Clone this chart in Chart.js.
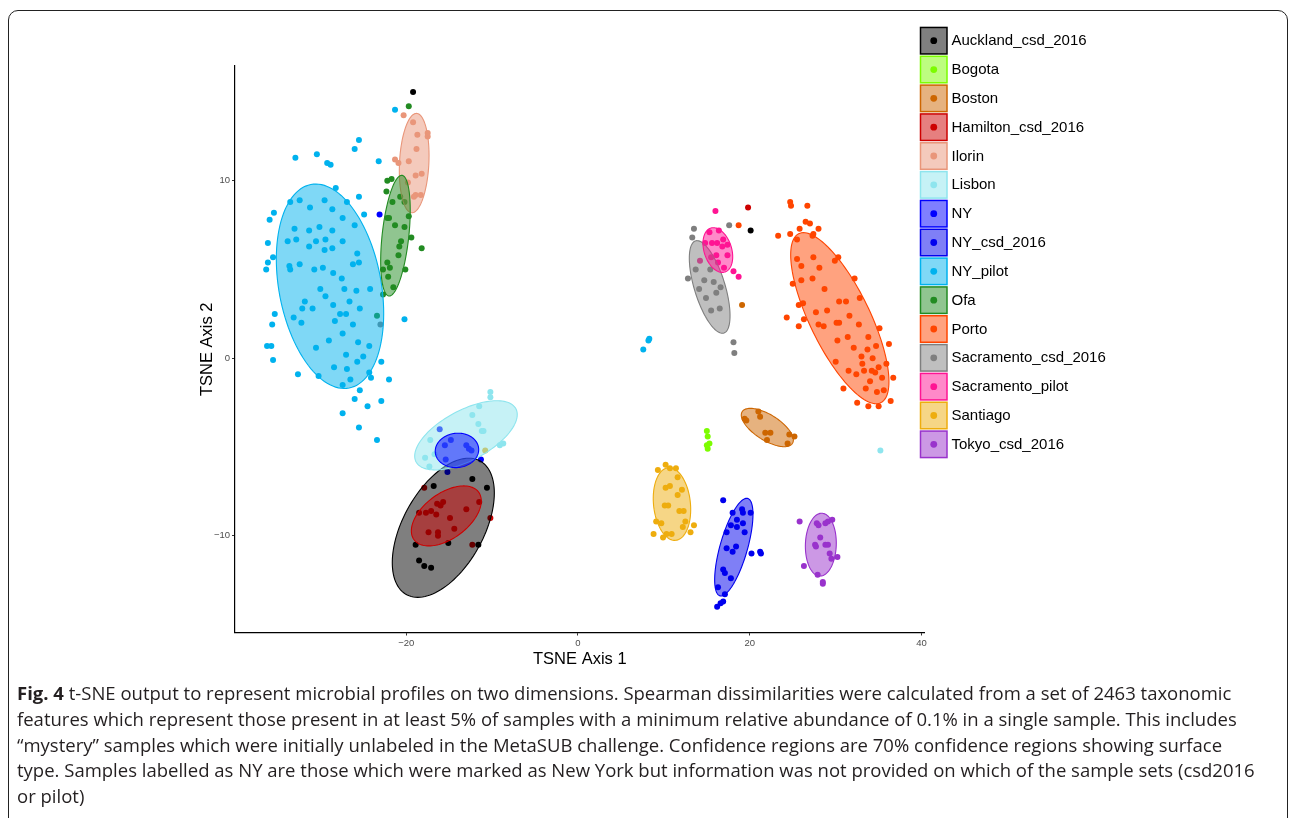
<!DOCTYPE html>
<html><head><meta charset="utf-8">
<script src="https://cdn.jsdelivr.net/npm/chart.js@4"></script>
<style>
html,body{margin:0;padding:0;background:#fff;width:1290px;height:818px;overflow:hidden;}
#wrap{position:relative;width:1290px;height:818px;}
#c{position:absolute;left:0;top:0;}
#frame{position:absolute;left:8px;top:10px;width:1280px;height:830px;border:1.5px solid #222;border-radius:10px;box-sizing:border-box;pointer-events:none;}
#caption{position:absolute;left:17px;top:680px;font-family:'Open Sans',sans-serif;font-size:18.5px;line-height:25.75px;color:#231f20;white-space:nowrap;}
#caption b{font-weight:700;}
</style></head>
<body><div id="wrap">
<canvas id="c" width="1290" height="818"></canvas>
<div id="frame"></div>
<div id="caption">
<div><b>Fig. 4</b> t-SNE output to represent microbial profiles on two dimensions. Spearman dissimilarities were calculated from a set of 2463 taxonomic</div>
<div>features which represent those present in at least 5% of samples with a minimum relative abundance of 0.1% in a single sample. This includes</div>
<div>“mystery” samples which were initially unlabeled in the MetaSUB challenge. Confidence regions are 70% confidence regions showing surface</div>
<div>type. Samples labelled as NY are those which were marked as New York but information was not provided on which of the sample sets (csd2016</div>
<div>or pilot)</div>
</div>
</div>
<script>
// ---- categories ----
const groups = ['Auckland_csd_2016','Bogota','Boston','Hamilton_csd_2016','Ilorin','Lisbon','NY','NY_csd_2016','NY_pilot','Ofa','Porto','Sacramento_csd_2016','Sacramento_pilot','Santiago','Tokyo_csd_2016'];

// ---- tick labels / ranges ----
const xTicks = [-20, 0, 20, 40];
const yTicks = [-10, 0, 10];
const xRange = [-39.93, 40.35];
const yRange = [-15.45, 16.47];

// ---- sample coordinates [TSNE1, TSNE2] ----
const auckland = [[-12.3,-6.8],[-16.8,-7.2],[-10.6,-7.3],[-18.9,-10.5],[-11.6,-10.5],[-15.1,-10.4],[-18.5,-11.4],[-17.9,-11.7],[-17.1,-11.8],[-19.2,15.0],[20.1,7.2]];
const bogota = [[15.0,-4.1],[15.1,-4.4],[15.3,-4.8],[15.0,-4.9],[15.1,-5.1]];
const boston = [[19.4,-3.4],[19.6,-3.5],[21.0,-3.0],[21.2,-3.3],[21.8,-4.2],[22.4,-4.2],[22.0,-4.6],[24.6,-4.3],[25.2,-4.4],[24.4,-4.8],[19.1,3.0]];
const hamilton = [[-17.9,-7.3],[-16.4,-8.2],[-16.0,-8.3],[-15.7,-8.1],[-18.5,-8.7],[-17.7,-8.7],[-17.1,-8.6],[-16.5,-8.8],[-14.9,-9.0],[-13.0,-8.5],[-11.5,-8.1],[-10.2,-9.0],[-17.4,-9.8],[-16.3,-9.8],[-16.3,-10.0],[-14.4,-9.6],[-12.3,-10.5],[19.8,8.5]];
const ilorin = [[-20.3,13.7],[-19.2,13.3],[-18.7,12.6],[-17.5,12.7],[-17.5,12.5],[-18.8,11.8],[-21.3,11.2],[-20.9,11.0],[-19.7,11.1],[-18.9,10.3],[-18.2,10.4],[-19.8,9.9],[-18.9,9.2],[-19.1,9.1],[-18.3,9.2]];
const lisbon = [[-10.2,-1.9],[-10.2,-2.2],[-11.5,-2.7],[-12.3,-3.2],[-11.6,-3.7],[-11.2,-4.1],[-11.0,-4.1],[-17.2,-4.6],[-9.1,-4.9],[-8.7,-4.8],[-17.8,-5.6],[-17.3,-6.1],[-16.7,-5.4],[35.2,-5.2]];
const ny = [[-16.1,-4.0],[-14.8,-4.6],[-15.5,-4.9],[-13.0,-4.9],[-12.7,-5.1],[-12.4,-5.2],[-15.4,-5.7],[-11.3,-5.7],[-15.2,-6.4],[-23.1,8.1]];
const nyCsd = [[16.9,-8.0],[18.0,-8.7],[19.1,-8.5],[19.2,-8.7],[20.1,-8.7],[18.5,-9.1],[17.8,-9.4],[18.5,-9.5],[19.2,-9.3],[17.3,-9.8],[19.4,-9.8],[17.3,-10.7],[18.4,-10.6],[18.0,-10.9],[20.2,-11.0],[21.2,-10.9],[21.3,-11.0],[16.9,-11.9],[17.1,-12.1],[17.8,-12.4],[16.3,-12.9],[17.1,-13.3],[16.9,-13.7],[16.6,-13.8],[16.2,-14.0]];
const nyPilot = [[-21.3,14.0],[-25.5,12.3],[-26.0,11.8],[-32.9,11.3],[-30.4,11.5],[-29.2,11.0],[-28.8,10.9],[-23.2,11.1],[-28.2,9.6],[-25.5,9.1],[-33.5,8.8],[-32.4,8.9],[-29.5,8.9],[-26.9,8.8],[-31.2,8.5],[-28.6,8.4],[-24.9,8.1],[-35.4,8.2],[-35.9,7.8],[-27.4,7.9],[-30.1,7.4],[-26.0,7.5],[-33.0,7.3],[-31.3,7.2],[-28.6,7.2],[-33.8,6.6],[-32.8,6.7],[-29.4,6.7],[-30.5,6.6],[-27.4,6.6],[-31.3,6.3],[-29.5,6.1],[-28.6,6.2],[-36.1,6.5],[-35.5,5.7],[-25.7,5.9],[-25.5,5.4],[-26.2,5.3],[-36.1,5.4],[-36.3,5.0],[-33.6,5.2],[-33.5,5.0],[-32.4,5.3],[-30.7,5.0],[-29.7,5.1],[-28.5,4.8],[-27.5,4.5],[-30.0,3.9],[-27.2,3.9],[-25.8,3.8],[-24.2,3.9],[-29.4,3.5],[-26.6,3.2],[-31.8,3.2],[-32.1,2.8],[-30.9,2.8],[-28.5,3.0],[-25.4,2.8],[-27.7,2.5],[-27.0,2.5],[-35.3,2.5],[-33.1,2.3],[-32.2,2.0],[-28.3,2.1],[-26.2,1.9],[-35.6,1.9],[-20.2,2.2],[-27.4,1.4],[-29.0,1.0],[-25.6,0.9],[-24.3,0.7],[-36.2,0.7],[-35.7,0.7],[-30.5,0.6],[-27.0,0.2],[-25.0,0.1],[-25.7,-0.2],[-35.5,-0.1],[-22.9,-0.2],[-28.4,-0.5],[-26.9,-0.6],[-24.3,-0.8],[-32.6,-0.9],[-30.2,-1.0],[-24.1,-1.1],[-22.0,-1.2],[-26.5,-1.2],[-27.4,-1.5],[-25.4,-1.8],[-26.0,-2.3],[-22.9,-2.4],[-24.5,-2.7],[-27.4,-3.1],[-25.5,-3.9],[-23.4,-4.6],[8.3,1.1],[8.2,1.0],[7.6,0.5]];
const ofa = [[-19.7,14.2],[-22.2,10.0],[-21.7,10.1],[-22.3,9.4],[-21.6,8.8],[-20.7,9.1],[-20.2,8.8],[-19.7,8.0],[-22.2,7.9],[-22.0,7.9],[-21.3,7.5],[-20.2,7.4],[-19.4,6.8],[-20.6,6.6],[-20.8,6.3],[-20.9,5.8],[-18.2,6.2],[-22.2,5.4],[-21.9,5.1],[-22.7,5.0],[-20.1,5.0],[-22.1,4.6],[-21.5,4.0],[-22.7,3.6],[-23.4,2.4]];
const porto = [[24.7,8.8],[24.8,8.6],[26.7,8.6],[26.5,7.7],[27.0,7.6],[27.3,6.9],[27.4,7.0],[28.0,7.3],[25.8,7.3],[24.7,7.0],[23.3,6.9],[25.5,6.7],[25.5,5.6],[27.4,5.7],[26.0,5.2],[29.9,5.5],[30.3,5.7],[28.1,5.1],[26.0,4.4],[27.3,4.5],[25.0,4.2],[32.2,4.5],[28.7,3.9],[32.8,3.4],[30.4,3.2],[31.2,3.2],[26.2,3.1],[25.7,3.0],[29.0,2.7],[27.7,2.6],[24.3,2.3],[26.3,2.2],[31.6,2.4],[25.7,1.8],[28.0,1.9],[28.6,1.8],[30.1,2.0],[30.4,2.0],[32.7,1.9],[35.1,1.7],[31.4,1.2],[33.8,1.2],[30.2,1.0],[36.2,0.8],[34.7,0.7],[32.1,0.6],[33.7,0.5],[33.0,0.1],[34.3,0.0],[30.0,-0.2],[33.1,-0.3],[35.9,-0.3],[35.0,-0.5],[31.5,-0.7],[32.4,-0.9],[33.3,-0.7],[34.2,-0.7],[34.6,-0.8],[35.4,-1.1],[36.7,-1.1],[34.0,-1.3],[30.9,-1.7],[33.5,-1.7],[34.8,-1.9],[35.6,-1.8],[36.4,-2.4],[32.5,-2.5],[33.8,-2.7],[35.0,-2.7],[18.7,7.5]];
const sacCsd = [[13.5,7.3],[17.6,7.5],[13.3,6.8],[13.7,5.0],[15.4,5.0],[12.8,4.5],[14.7,4.4],[15.8,4.3],[14.1,3.9],[16.6,4.0],[16.1,3.7],[14.9,3.4],[16.5,2.8],[15.5,2.7],[18.1,0.9],[18.2,0.3],[-23.0,1.9]];
const sacPilot = [[16.0,8.3],[15.3,7.1],[16.4,7.2],[14.8,6.5],[15.6,6.5],[16.2,6.5],[16.9,6.7],[17.4,6.4],[16.8,6.3],[17.4,5.8],[16.1,5.8],[15.5,5.7],[16.3,5.4],[17.0,5.1],[18.1,4.9],[18.7,4.6],[14.2,5.5]];
const santiago = [[9.3,-6.3],[10.2,-6.0],[10.7,-6.2],[11.4,-6.2],[11.6,-6.7],[10.2,-7.3],[10.7,-7.2],[12.1,-7.4],[11.6,-7.7],[10.1,-8.3],[10.5,-8.3],[11.8,-8.6],[12.3,-8.6],[9.1,-9.2],[9.7,-9.3],[12.5,-9.2],[12.2,-9.5],[13.5,-9.4],[8.8,-9.9],[9.9,-10.1],[10.3,-9.9],[10.9,-9.9],[13.1,-9.8],[-10.8,-5.2]];
const tokyo = [[25.8,-9.2],[27.8,-9.3],[28.0,-9.4],[28.8,-9.3],[29.1,-9.2],[29.6,-9.1],[28.2,-10.1],[27.6,-10.5],[27.7,-10.6],[28.8,-10.5],[29.1,-10.5],[29.3,-11.0],[29.5,-11.3],[30.2,-11.2],[26.3,-11.7],[27.9,-12.2],[28.5,-12.6],[28.5,-12.7]];

// ---- 70% confidence ellipses (centre, spread, correlation), per group ----
const ellipseCx = [-15.68, null, 22.04, -15.33, -19.07, -13.04, -14.09, 18.14, -28.87, -21.25, 30.48, 15.33, 16.28, 10.94, 28.27];
const ellipseCy = [-9.55, null, -3.90, -8.88, 11.00, -4.34, -5.19, -10.64, 4.06, 6.91, 2.26, 4.02, 6.10, -8.21, -10.50];
const ellipseSx = [5.94, null, 3.03, 4.07, 1.73, 5.97, 2.53, 2.23, 6.25, 1.72, 5.72, 2.37, 1.73, 2.18, 1.80];
const ellipseSy = [3.92, null, 1.08, 1.69, 2.80, 1.95, 0.97, 2.75, 5.76, 3.40, 4.82, 2.61, 1.26, 2.05, 1.77];
const ellipseR  = [0.50, null, -0.65, 0.50, 0.15, 0.60, 0.05, 0.67, -0.265, 0.42, -0.74, -0.62, -0.30, -0.15, 0.05];

// ---- styles ----
const colors = ['#000000','#7CFC00','#CD6600','#CD0000','#E9967A','#8EE5EE','#0000FF','#0000EE','#00B2EE','#228B22','#FF4500','#7F7F7F','#FF1493','#EEAD0E','#9932CC'];
const groupPoints = [auckland, bogota, boston, hamilton, ilorin, lisbon, ny, nyCsd, nyPilot, ofa, porto, sacCsd, sacPilot, santiago, tokyo];

function rgba(hex, a){
  const n = parseInt(hex.slice(1),16);
  return `rgba(${(n>>16)&255},${(n>>8)&255},${n&255},${a})`;
}

const ellipsePlugin = {
  id:'ellipses',
  afterDatasetsDraw(chart){
    const ctx = chart.ctx, xs = chart.scales.x, ys = chart.scales.y;
    ctx.save();
    groups.forEach((g,i)=>{
      if (ellipseCx[i] === null) return;
      const cx=ellipseCx[i], cy=ellipseCy[i], sx=ellipseSx[i], sy=ellipseSy[i], r=ellipseR[i];
      const q = Math.sqrt(1 - r*r);
      ctx.beginPath();
      for (let k=0;k<=120;k++){
        const t = k/120*2*Math.PI;
        const dx = cx + sx*Math.cos(t);
        const dy = cy + sy*(r*Math.cos(t) + q*Math.sin(t));
        const px = xs.getPixelForValue(dx), py = ys.getPixelForValue(dy);
        if (k===0) ctx.moveTo(px,py); else ctx.lineTo(px,py);
      }
      ctx.closePath();
      ctx.fillStyle = rgba(colors[i],0.5);
      ctx.fill();
      ctx.lineWidth = 1.1;
      ctx.strokeStyle = colors[i];
      ctx.stroke();
    });
    ctx.restore();
  }
};

const legendPlugin = {
  id:'customLegend',
  afterDraw(chart){
    const ctx = chart.ctx;
    ctx.save();
    const x0 = 920.5, y0 = 40.7, step = 28.83, box = 26.5;
    groups.forEach((g,i)=>{
      const cy = y0 + i*step;
      ctx.fillStyle = '#ffffff';
      ctx.fillRect(x0, cy-box/2, box, box);
      ctx.fillStyle = rgba(colors[i],0.5);
      ctx.fillRect(x0, cy-box/2, box, box);
      ctx.lineWidth = 1.5;
      ctx.strokeStyle = colors[i];
      ctx.strokeRect(x0, cy-box/2, box, box);
      ctx.beginPath();
      ctx.arc(x0+box/2, cy, 3.4, 0, 2*Math.PI);
      ctx.fillStyle = colors[i];
      ctx.fill();
      ctx.fillStyle = '#000';
      ctx.font = '15px "Liberation Sans", Arial, sans-serif';
      ctx.textBaseline = 'middle';
      ctx.textAlign = 'left';
      ctx.fillText(g, 951.5, cy+0.5);
    });
    ctx.restore();
  }
};

const minus = v => v < 0 ? '\u2212' + Math.abs(v) : String(v);

new Chart(document.getElementById('c'), {
  type:'scatter',
  data:{
    datasets: groups.map((g,i)=>({
      label:g,
      data: groupPoints[i].map(p=>({x:p[0], y:p[1]})),
      backgroundColor: colors[i],
      borderWidth:0,
      pointRadius:3,
      pointHoverRadius:3
    }))
  },
  options:{
    responsive:false,
    animation:false,
    devicePixelRatio:1,
    events:[],
    layout:{padding:{left:0, top:66, right:365.4, bottom:138}},
    plugins:{legend:{display:false}, tooltip:{enabled:false}, title:{display:false}},
    scales:{
      x:{
        type:'linear', min:xRange[0], max:xRange[1],
        afterBuildTicks: s => { s.ticks = xTicks.map(v=>({value:v})); },
        afterFit: s => { s.height = 47.5; },
        grid:{drawOnChartArea:false, color:'#333', tickLength:3, tickWidth:1},
        border:{display:true, color:'#000', width:1.2},
        ticks:{padding:2, color:'#4d4d4d', font:{family:'Liberation Sans', size:9.5}, maxRotation:0, autoSkip:false, callback: v => minus(v)},
        title:{display:true, text:'TSNE Axis 1', color:'#000', font:{family:'Liberation Sans', size:16.5}, padding:{top:0, bottom:11}}
      },
      y:{
        type:'linear', min:yRange[0], max:yRange[1],
        afterBuildTicks: s => { s.ticks = yTicks.map(v=>({value:v})); },
        afterFit: s => { s.width = 235; },
        grid:{drawOnChartArea:false, color:'#333', tickLength:3, tickWidth:1},
        border:{display:true, color:'#000', width:1.2},
        ticks:{padding:2, color:'#4d4d4d', font:{family:'Liberation Sans', size:9.5}, autoSkip:false, callback: v => minus(v)},
        title:{display:true, text:'TSNE Axis 2', color:'#000', font:{family:'Liberation Sans', size:16.5}, padding:{top:198, bottom:0}}
      }
    }
  },
  plugins:[ellipsePlugin, legendPlugin]
});
</script>
</body></html>
